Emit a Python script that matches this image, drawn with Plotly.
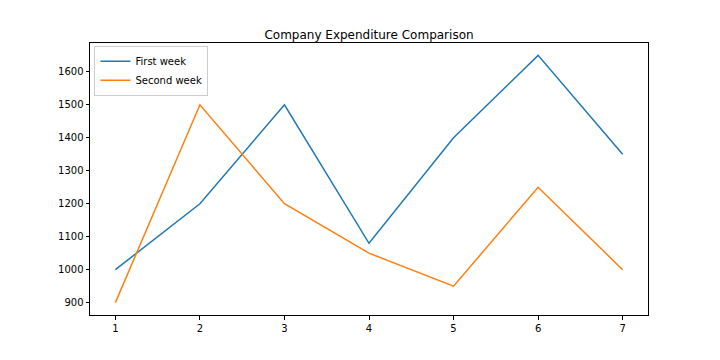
import plotly.graph_objects as go

days = [1, 2, 3, 4, 5, 6, 7]
first_week = [1000, 1200, 1500, 1080, 1400, 1650, 1350]
second_week = [900, 1500, 1200, 1050, 950, 1250, 1000]
y_ticks = [900, 1000, 1100, 1200, 1300, 1400, 1500, 1600]

fig = go.Figure()
fig.add_trace(go.Scatter(x=days, y=first_week, mode="lines", name="First week",
                         line=dict(color="#1f77b4", width=1.5)))
fig.add_trace(go.Scatter(x=days, y=second_week, mode="lines", name="Second week",
                         line=dict(color="#ff7f0e", width=1.5)))

axis_common = dict(showline=True, linecolor="black", linewidth=1, mirror=True,
                   ticks="outside", ticklen=3.5, tickwidth=1, tickcolor="black",
                   showgrid=False, zeroline=False,
                   tickfont=dict(family="DejaVu Sans", size=10, color="black"))

fig.update_layout(
    width=720, height=360,
    paper_bgcolor="white", plot_bgcolor="white",
    margin=dict(l=82, r=80, t=35, b=53),
    title=dict(text="Company Expenditure Comparison", x=0.5, xanchor="center",
               xref="paper", y=1, yref="paper", yanchor="bottom", pad=dict(b=4),
               font=dict(family="DejaVu Sans", size=12, color="black")),
    xaxis=dict(range=[0.7, 7.3], tickvals=days, **axis_common),
    yaxis=dict(range=[862.5, 1687.5], tickvals=y_ticks, **axis_common),
    legend=dict(x=0.008, y=0.99, xanchor="left", yanchor="top",
                bordercolor="#cccccc", borderwidth=1, bgcolor="rgba(255,255,255,0.8)",
                font=dict(family="DejaVu Sans", size=10, color="black"),
                tracegroupgap=0, itemwidth=30),
    showlegend=True,
)

fig.write_html("out.html")
